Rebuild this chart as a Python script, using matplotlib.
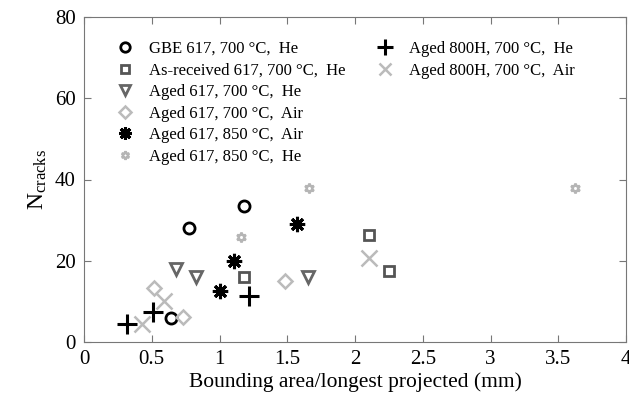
import matplotlib.pyplot as plt

plt.rcParams['font.family'] = ['Liberation Serif', 'DejaVu Serif']
plt.rcParams['mathtext.fontset'] = 'custom'
plt.rcParams['mathtext.rm'] = 'Liberation Serif'
plt.rcParams['mathtext.it'] = 'Liberation Serif'

# data
gbe_x = [0.775, 1.18, 0.64]
gbe_y = [28.0, 33.4, 5.9]
asrec_x = [1.18, 2.10, 2.25]
asrec_y = [16.1, 26.4, 17.5]
aged700he_x = [0.68, 0.83, 1.65]
aged700he_y = [18.0, 15.9, 15.9]
aged700air_x = [0.52, 0.73, 1.48]
aged700air_y = [13.2, 6.1, 14.9]
aged850air_x = [1.0, 1.11, 1.57]
aged850air_y = [12.5, 19.9, 29.1]
aged850he_x = [1.16, 1.66, 3.62]
aged850he_y = [25.9, 38.0, 38.0]
h800he_x = [0.32, 0.51, 1.22]
h800he_y = [4.4, 7.5, 11.3]
h800air_x = [0.43, 0.59, 2.10]
h800air_y = [4.4, 10.2, 20.6]

labels = ['GBE 617, 700 °C,  He', 'As-received 617, 700 °C,  He',
          'Aged 617, 700 °C,  He', 'Aged 617, 700 °C,  Air',
          'Aged 617, 850 °C,  Air', 'Aged 617, 850 °C,  He',
          'Aged 800H, 700 °C,  He', 'Aged 800H, 700 °C,  Air']

fig = plt.figure(figsize=(6.29, 4.0), dpi=100)
ax = fig.add_axes([0.1335, 0.145, 0.862, 0.8125])

kw = dict(linestyle='none', markerfacecolor='none')
l1, = ax.plot(gbe_x, gbe_y, marker='o', color='black', markersize=8, markeredgewidth=2, label=labels[0], **kw)
l2, = ax.plot(asrec_x, asrec_y, marker='s', color='#555555', markersize=7, markeredgewidth=2, label=labels[1], **kw)
l3, = ax.plot(aged700he_x, aged700he_y, marker='v', color='#666666', markersize=8, markeredgewidth=2, label=labels[2], **kw)
l4, = ax.plot(aged700air_x, aged700air_y, marker='D', color='#bbbbbb', markersize=7, markeredgewidth=1.8, label=labels[3], **kw)
l5, = ax.plot(aged850air_x, aged850air_y, marker=(8, 2, 0), color='black', markersize=11, markeredgewidth=2.2, label=labels[4], **kw)
l6, = ax.plot(aged850he_x, aged850he_y, marker=(6, 1, 0), color='#b5b5b5', markersize=7, markeredgewidth=1.8, label=labels[5], **kw)
l7, = ax.plot(h800he_x, h800he_y, marker='+', color='black', markersize=14, markeredgewidth=2.2, label=labels[6], **kw)
l8, = ax.plot(h800air_x, h800air_y, marker='x', color='#bbbbbb', markersize=11, markeredgewidth=1.8, label=labels[7], **kw)

ax.set_xlim(0, 4)
ax.set_ylim(0, 80)
ax.set_xticks([0, 0.5, 1, 1.5, 2, 2.5, 3, 3.5, 4])
ax.set_xticklabels(['0', '0.5', '1', '1.5', '2', '2.5', '3', '3.5', '4'])
ax.set_yticks([0, 20, 40, 60, 80])
ax.tick_params(direction='in', top=True, right=True, labelsize=15, length=5, color='#777777', pad=6)
for s in ax.spines.values():
    s.set_color('#777777')
ax.set_xlabel('Bounding area/longest projected (mm)', fontsize=15.5, labelpad=2)
ax.set_ylabel(r'N$_{\mathrm{cracks}}$', fontsize=17, labelpad=4)

# two separate legends: six entries on the left, two on the right
leg1 = ax.legend(handles=[l1, l2, l3, l4, l5, l6], frameon=False, fontsize=12, loc='upper left',
                 bbox_to_anchor=(0.03, 0.972), handletextpad=0.8, labelspacing=0.33, handlelength=1.2,
                 markerscale=0.85)
ax.add_artist(leg1)
ax.legend(handles=[l7, l8], frameon=False, fontsize=12, loc='upper left',
          bbox_to_anchor=(0.51, 0.972), handletextpad=0.8, labelspacing=0.33, handlelength=1.2,
          markerscale=0.85)

fig.savefig('out.png', dpi=100)
